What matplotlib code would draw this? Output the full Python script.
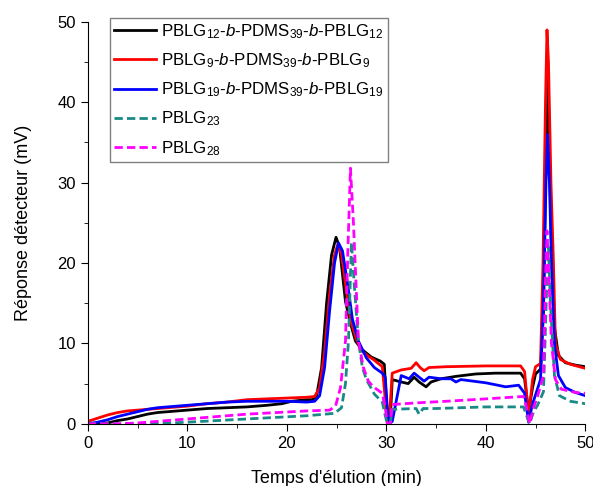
import numpy as np
import matplotlib
matplotlib.use("Agg")
import matplotlib.pyplot as plt
from matplotlib.ticker import MultipleLocator

plt.rcParams['font.family'] = ['Liberation Sans', 'DejaVu Sans']
plt.rcParams['mathtext.fontset'] = 'custom'
plt.rcParams['mathtext.rm'] = 'Liberation Sans'
plt.rcParams['mathtext.it'] = 'Liberation Sans:italic'

# PBLG12-b-PDMS39-b-PBLG12
black_t = [0, 1, 2, 3, 4, 5, 6, 7, 8, 10, 12, 14, 16, 18, 19.5, 20.5, 22, 22.6, 23.0, 23.5,
           24.0, 24.5, 24.95, 25.3, 25.9, 26.4, 26.9, 27.5, 28.5, 29.4, 29.8, 30.0, 30.2, 30.4,
           30.6, 31.5, 32.2, 32.8, 33.3, 34, 34.5, 35.5, 37, 39, 41, 43.5, 43.9, 44.3, 44.7, 45.0,
           45.5, 45.8, 46.0, 46.15, 46.35, 46.6, 46.9, 47.3, 48, 49, 50]
black_v = [0.0, 0.0, 0.1, 0.4, 0.6, 0.9, 1.2, 1.4, 1.5, 1.7, 1.9, 2.0, 2.1, 2.3, 2.5, 2.8, 3.0, 3.0, 3.5, 7,
           15, 21, 23.2, 22, 15.2, 12.5, 10.3, 9.3, 8.3, 7.8, 7.4, 3, 0.2, 0.5,
           5.5, 5.2, 5.0, 5.8, 5.2, 4.6, 5.2, 5.6, 5.9, 6.2, 6.3, 6.3, 5.6, 1.5, 4.5, 6.2,
           6.8, 14, 30, 44, 36, 22, 12, 8.5, 7.6, 7.3, 7.1]

# PBLG9-b-PDMS39-b-PBLG9
red_t = [0, 1, 2, 3, 4, 5, 6, 8, 10, 12, 14, 16, 18, 20, 22, 22.8, 23.3, 23.8, 24.3, 24.8,
         25.15, 25.5, 26, 26.5, 27.0, 27.6, 28.2, 28.7, 29.6, 29.9, 30.1, 30.3, 30.6, 31.5, 32.5,
         33.0, 33.4, 33.8, 34.3, 36, 40, 43.5, 43.9, 44.3, 44.7, 45.0, 45.5, 45.75, 46.0, 46.15,
         46.3, 46.55, 46.8, 47.0, 47.5, 48.5, 50]
red_v = [0.3, 0.7, 1.1, 1.4, 1.6, 1.7, 1.8, 2.0, 2.2, 2.5, 2.7, 3.0, 3.1, 3.2, 3.3, 3.4, 4.5, 9, 16, 21,
         22.4, 21, 16.5, 12.5, 10.5, 9.0, 8.4, 8.0, 7.1, 3, 0.2, 0.5, 6.3, 6.7, 6.9,
         7.6, 7.0, 6.6, 7.0, 7.1, 7.2, 7.2, 6.5, 0.9, 5.5, 7.1, 7.5, 20, 40, 49,
         45, 30, 20, 10, 8.0, 7.4, 6.9]

# PBLG19-b-PDMS39-b-PBLG19
blue_t = [0, 1, 2, 3, 4, 5, 6, 7, 8, 10, 12, 14, 16, 18, 20, 22, 22.8, 23.3, 23.8, 24.3,
          24.8, 25.2, 25.6, 26.1, 26.6, 27.2, 28, 28.8, 29.6, 29.9, 30.1, 30.3, 30.6, 31.5, 32.3,
          32.8, 33.3, 33.8, 34.3, 35.5, 36.5, 37.0, 37.5, 40, 42, 43.3, 43.9, 44.3, 44.7, 45.0,
          45.5, 45.8, 46.05, 46.2, 46.4, 46.6, 46.9, 47.3, 48, 49, 50]
blue_v = [0.0, 0.2, 0.5, 0.9, 1.2, 1.5, 1.8, 2.0, 2.1, 2.3, 2.5, 2.7, 2.8, 2.8, 2.8, 2.7, 2.8, 3.5, 7, 14,
          20, 22.5, 21.5, 17.5, 13, 10.3, 8.2, 7.0, 6.3, 5.8, 2, 0, 0.3, 6.0, 5.6,
          6.3, 5.8, 5.3, 5.8, 5.6, 5.6, 5.2, 5.5, 5.1, 4.6, 4.8, 3.8, 0.2, 2.5, 3.6,
          5.5, 15, 30, 36, 30, 20, 10, 6, 4.5, 3.9, 3.5]

# PBLG23
teal_t = [0, 5, 7.5, 10, 13, 16, 19, 22, 24.8, 25.5, 25.9, 26.2, 26.5, 26.8, 27.2, 27.6, 28, 28.8,
          29.6, 29.9, 30.1, 30.4, 30.6, 33, 33.3, 33.7, 35, 40, 43.8, 44.1, 44.4, 44.8, 45.2, 45.8,
          46.1, 46.3, 46.5, 46.9, 47.4, 48.5, 50]
teal_v = [0, 0, 0.05, 0.2, 0.4, 0.6, 0.8, 1.0, 1.3, 2.0, 5, 10.3, 22.6, 17, 10.3, 7, 5.5, 3.7,
          2.7, 1, 0, 0, 1.8, 1.9, 1.2, 1.9, 1.9, 2.1, 2.1, 1, 0, 1.5, 2.3, 4,
          16, 22, 15, 6, 3.5, 2.8, 2.5]

# PBLG28
mag_t = [0, 3, 5, 7, 10, 13, 16, 19, 22, 24.3, 24.9, 25.4, 25.9, 26.15, 26.4, 26.7, 27.2, 27.7, 28.2,
         28.7, 29.6, 29.9, 30.1, 30.4, 30.6, 33, 36, 40, 43.8, 44.1, 44.4, 44.8, 45.2, 45.8, 46.0,
         46.15, 46.35, 46.6, 47.0, 47.6, 49, 50]
mag_v = [0, 0, 0.1, 0.3, 0.6, 0.9, 1.2, 1.4, 1.6, 1.7, 2.2, 4.5, 10.3, 22, 31.8, 25, 10.3, 7.0, 5.3,
         4.6, 3.8, 2, 0, 0, 2.4, 2.6, 2.8, 3.1, 3.4, 2, 0, 2, 3.4, 6, 18,
         24, 18, 10, 5.5, 4.3, 3.9, 3.8]

labels = [r'PBLG$_{12}$-$\it{b}$-PDMS$_{39}$-$\it{b}$-PBLG$_{12}$',
          r'PBLG$_{9}$-$\it{b}$-PDMS$_{39}$-$\it{b}$-PBLG$_{9}$',
          r'PBLG$_{19}$-$\it{b}$-PDMS$_{39}$-$\it{b}$-PBLG$_{19}$',
          r'PBLG$_{23}$',
          r'PBLG$_{28}$']

fig = plt.figure(figsize=(5.93, 4.86), dpi=100)
ax = fig.add_axes([0.148, 0.128, 0.839, 0.827])

ax.plot(black_t, black_v, color='black', lw=2, label=labels[0])
ax.plot(red_t, red_v, color='red', lw=2, label=labels[1])
ax.plot(blue_t, blue_v, color='blue', lw=2, label=labels[2])
ax.plot(teal_t, teal_v, color='#1a8a86', lw=2, ls=(0, (3, 1.5)), label=labels[3])
ax.plot(mag_t, mag_v, color='magenta', lw=2, ls=(0, (3, 1.5)), label=labels[4])

ax.set_xlim(0, 50)
ax.set_ylim(0, 50)
ax.xaxis.set_major_locator(MultipleLocator(10))
ax.xaxis.set_minor_locator(MultipleLocator(5))
ax.yaxis.set_major_locator(MultipleLocator(10))
ax.yaxis.set_minor_locator(MultipleLocator(5))
ax.tick_params(which='both', direction='out', labelsize=12)
ax.tick_params(which='major', length=5)
ax.tick_params(which='minor', length=3)
ax.spines['top'].set_visible(False)
ax.spines['right'].set_visible(False)

ax.set_xlabel("Temps d'élution (min)", fontsize=13, labelpad=14)
ax.set_ylabel("Réponse détecteur (mV)", fontsize=13, labelpad=18)

leg = ax.legend(loc='upper left', bbox_to_anchor=(0.044, 1.01), borderaxespad=0,
                fontsize=12.2, fancybox=False, framealpha=1, edgecolor='gray',
                handlelength=2.5, labelspacing=0.62, handletextpad=0.3, borderpad=0.25)
leg.get_frame().set_linewidth(1.0)

fig.savefig('out.png', dpi=100)
